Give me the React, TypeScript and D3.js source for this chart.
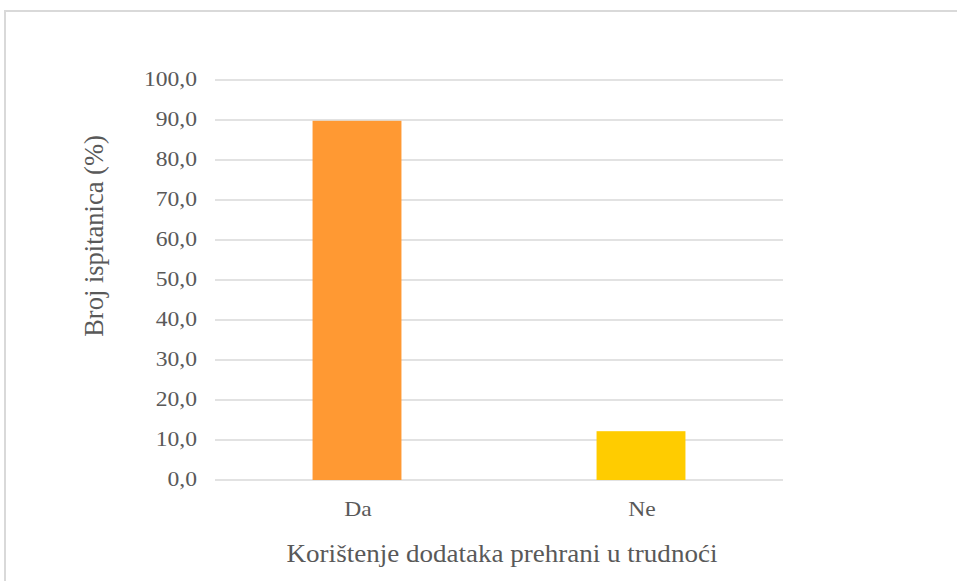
import * as d3 from 'd3';

// chart data
const categories = ['Da', 'Ne'];
const values = [89.8, 12.2];
const barColors = ['#ff9933', '#ffcc00'];
const yTicks = [0, 10, 20, 30, 40, 50, 60, 70, 80, 90, 100];

const xTitle = 'Korištenje dodataka prehrani u trudnoći';
const yTitle = 'Broj ispitanica (%)';

const W = 957;
const H = 581;

const FONT = "'Liberation Serif'";
const TEXT = '#595959';
const GRID = '#d9d9d9';

const plot = { left: 215, right: 783, top: 80, bottom: 480 };

const App = () => {
  const y = d3.scaleLinear().domain([0, 100]).range([plot.bottom, plot.top]);
  const x = d3.scaleBand<string>().domain(categories).range([plot.left, plot.right]).padding(0);
  const barW = x.bandwidth() * 0.313;
  const center = (c: string) => (x(c) as number) + x.bandwidth() / 2;

  return (
    <svg
      width={W}
      height={H}
      style={{ position: 'absolute', left: 0, top: 0, background: 'white' }}
    >
      {/* chart frame, cropped on the right and bottom */}
      <rect x={5} y={11} width={1000} height={620} fill="white" stroke={GRID} strokeWidth={2} />

      {/* gridlines */}
      {yTicks.map(t => (
        <line key={t} x1={plot.left} x2={plot.right} y1={y(t)} y2={y(t)} stroke={GRID} strokeWidth={1.5} />
      ))}

      {/* bars */}
      {values.map((v, i) => (
        <rect
          key={categories[i]}
          x={center(categories[i]) - barW / 2}
          y={y(v)}
          width={barW}
          height={y(0) - y(v)}
          fill={barColors[i]}
        />
      ))}

      {/* y tick labels */}
      {yTicks.map(t => (
        <text
          key={t}
          transform={`translate(197, ${y(t) + 6}) scale(1.18, 1)`}
          textAnchor="end"
          fontSize={20}
          fill={TEXT}
          style={{ fontFamily: FONT }}
        >
          {t.toFixed(1).replace('.', ',')}
        </text>
      ))}

      {/* category labels */}
      {categories.map(c => (
        <text
          key={c}
          transform={`translate(${center(c) + 1}, 516) scale(1.18, 1)`}
          textAnchor="middle"
          fontSize={20}
          fill={TEXT}
          style={{ fontFamily: FONT }}
        >
          {c}
        </text>
      ))}

      {/* x axis title */}
      <text
        transform="translate(502, 562) scale(1.04, 1)"
        textAnchor="middle"
        fontSize={26}
        fill={TEXT}
        style={{ fontFamily: FONT }}
      >
        {xTitle}
      </text>

      {/* y axis title */}
      <text
        transform="translate(103, 236) rotate(-90)"
        textAnchor="middle"
        fontSize={26.5}
        fill={TEXT}
        style={{ fontFamily: FONT }}
      >
        {yTitle}
      </text>
    </svg>
  );
};

export default App;
